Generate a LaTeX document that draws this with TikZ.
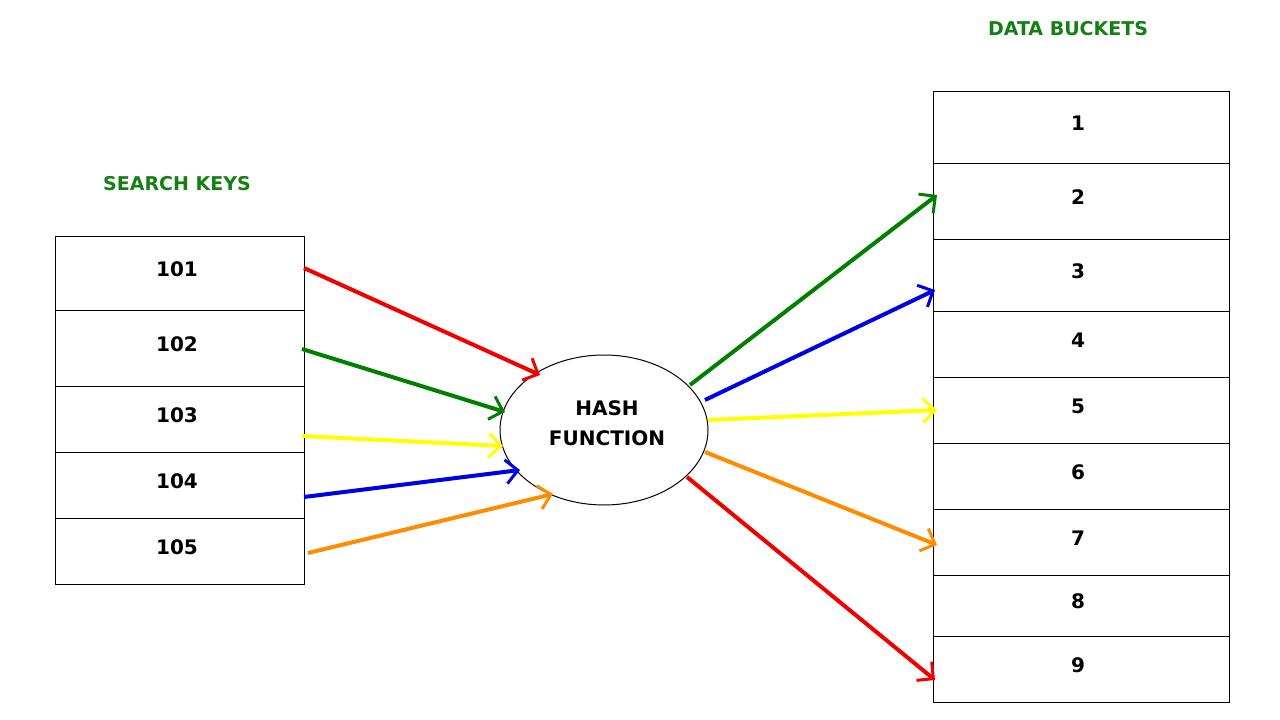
\documentclass[tikz,border=0pt]{standalone}
\usepackage{fontspec}
\setmainfont{DejaVu Sans}
\usetikzlibrary{arrows.meta,shapes.geometric}
\definecolor{tgreen}{RGB}{20,128,20}
\definecolor{agreen}{RGB}{0,128,0}
\definecolor{ablue}{RGB}{0,0,230}
\definecolor{ayellow}{RGB}{255,255,0}
\definecolor{aorange}{RGB}{255,140,0}
\definecolor{ared}{RGB}{240,0,0}
\begin{document}
\begin{tikzpicture}[x=1pt,y=-1pt,
  cell/.style={draw=black,line width=1pt,font=\bfseries\fontsize{20}{24}\selectfont},
  title/.style={text=tgreen,font=\bfseries\fontsize{19}{22}\selectfont},
  arr/.style={line width=4pt,-{Straight Barb[length=12pt,width=24pt,line width=3pt]}}]
\useasboundingbox[fill=white] (0,0) rectangle (1280,720);
\node[title] (tl) at (177,184) {SEARCH KEYS};
\node[title] (tr) at (1068,29) {DATA BUCKETS};
% left table
\foreach \n/\a/\b in {101/236/310,102/310/386,103/386/452,104/452/518,105/518/584}{
  \draw[line width=1pt] (55,\a) rectangle (304,\b);
  \node[cell,draw=none] (k\n) at (177,{(\a+\b)/2-4}) {\n};
}
% right table
\foreach \n/\a/\b in {1/91/163,2/163/239,3/239/311,4/311/377,5/377/443,6/443/509,7/509/575,8/575/636,9/636/702}{
  \draw[line width=1pt] (933,\a) rectangle (1229,\b);
  \node[cell,draw=none] (b\n) at (1078,{(\a+\b)/2-4}) {\n};
}
\node[draw=black,line width=1pt,ellipse,minimum width=208pt,minimum height=150pt,inner sep=0pt] (h) at (604,430) {};
\node[font=\bfseries\fontsize{20}{30}\selectfont,align=center] (ht) at (607,423) {HASH\\FUNCTION};
\coordinate (l1s) at (304,268); \coordinate (l1e) at (540,375);
\coordinate (l2s) at (302,349); \coordinate (l2e) at (505,412);
\coordinate (l3s) at (302,436); \coordinate (l3e) at (503,446);
\coordinate (l4s) at (304,497); \coordinate (l4e) at (520,470);
\coordinate (l5s) at (308,553); \coordinate (l5e) at (553,494);
\draw[arr,ared] (l1s) -- (l1e);
\draw[arr,agreen] (l2s) -- (l2e);
\draw[arr,ayellow] (l3s) -- (l3e);
\draw[arr,ablue] (l4s) -- (l4e);
\draw[arr,aorange] (l5s) -- (l5e);
\coordinate (r1s) at (690,385); \coordinate (r1e) at (937,195);
\coordinate (r2s) at (705,400); \coordinate (r2e) at (935,290);
\coordinate (r3s) at (708,420); \coordinate (r3e) at (937,410);
\coordinate (r4s) at (705,452); \coordinate (r4e) at (937,545);
\coordinate (r5s) at (687,477); \coordinate (r5e) at (935,680);
\draw[arr,agreen] (r1s) -- (r1e);
\draw[arr,ablue] (r2s) -- (r2e);
\draw[arr,ayellow] (r3s) -- (r3e);
\draw[arr,aorange] (r4s) -- (r4e);
\draw[arr,ared] (r5s) -- (r5e);
\end{tikzpicture}
\end{document}
